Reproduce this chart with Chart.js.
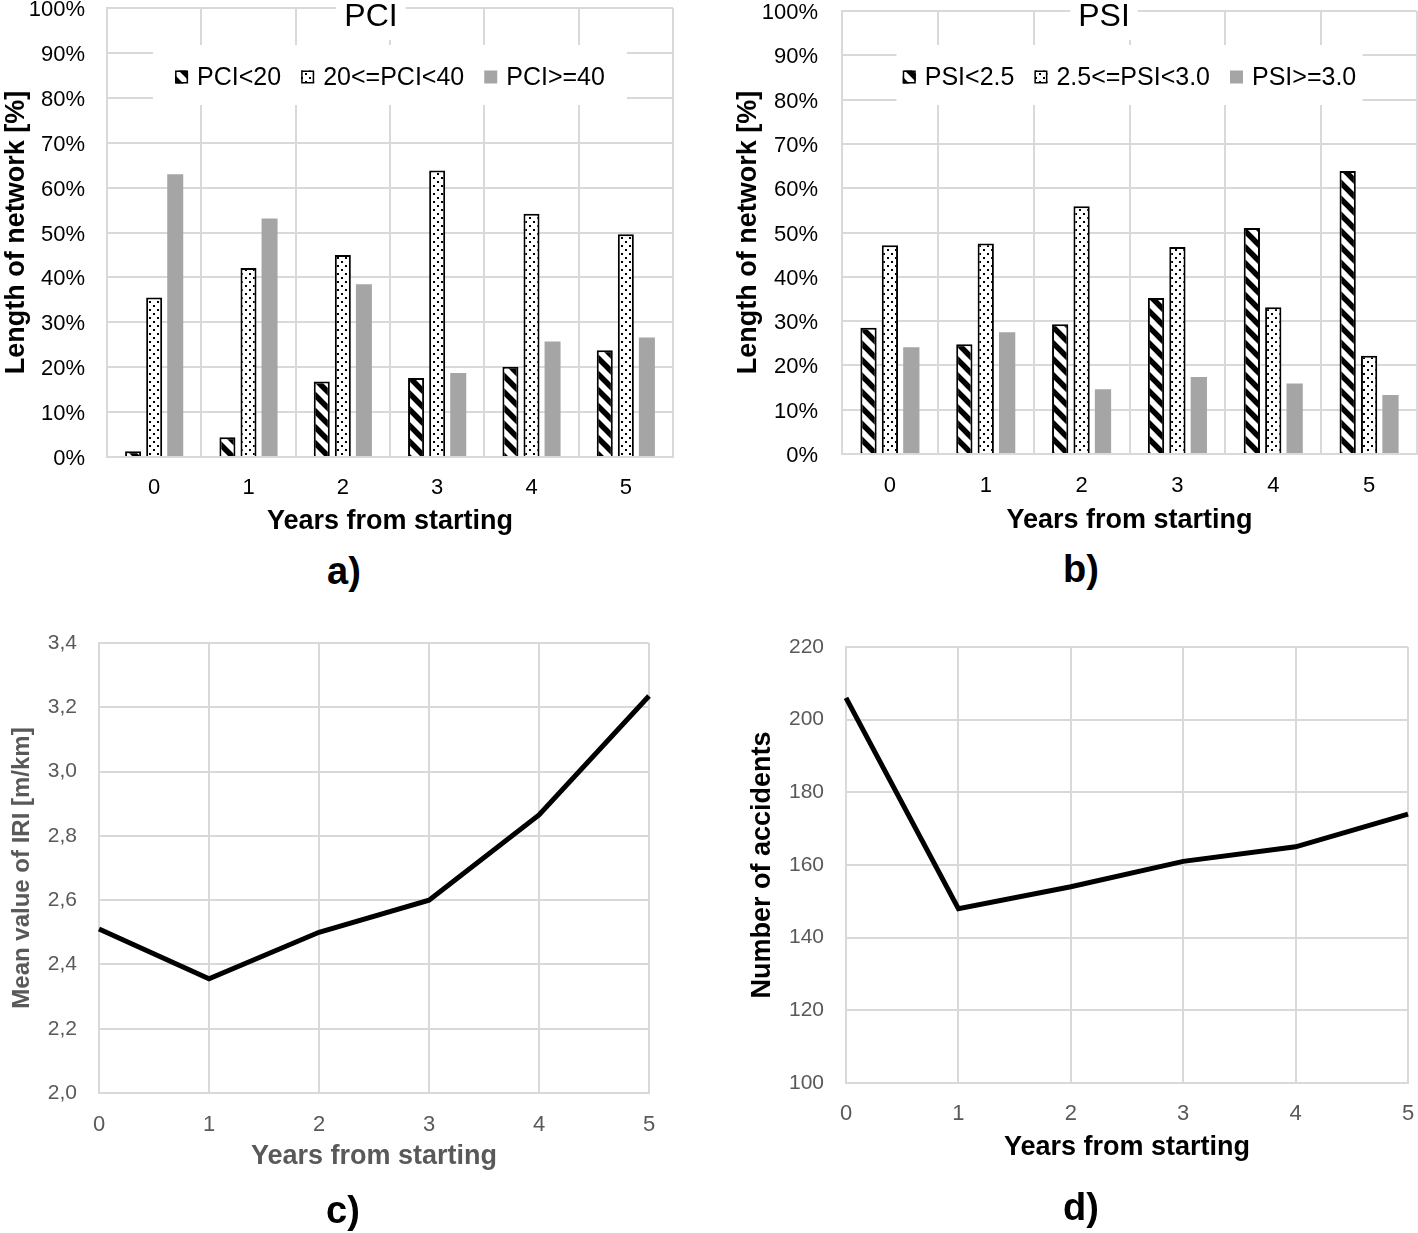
<!DOCTYPE html>
<html>
<head>
<meta charset="utf-8">
<script src="https://cdn.jsdelivr.net/npm/chart.js@4.4.1/dist/chart.umd.min.js"></script>
<style>
  body { margin: 0; background: #fff; }
  #wrap { position: relative; width: 1418px; height: 1233px; overflow: hidden; font-family: "Liberation Sans", Arial, sans-serif; }
  canvas { position: absolute; }
  .tag { position: absolute; font-weight: bold; font-size: 38px; color: #000; transform: translate(-50%, -50%); }
</style>
</head>
<body>
<div id="wrap">
  <canvas id="pci" width="700" height="545" style="left:0;top:0"></canvas>
  <canvas id="psi" width="708" height="545" style="left:710px;top:0"></canvas>
  <canvas id="iri" width="700" height="590" style="left:0;top:600px"></canvas>
  <canvas id="acc" width="698" height="590" style="left:720px;top:600px"></canvas>
  <div class="tag" style="left:344px;top:571px">a)</div>
  <div class="tag" style="left:1081px;top:569px">b)</div>
  <div class="tag" style="left:343px;top:1210px">c)</div>
  <div class="tag" style="left:1081px;top:1207px">d)</div>
</div>
<script>
const years = ['0', '1', '2', '3', '4', '5']

// panel a - PCI classes, % of network length
const pciLabels = ['PCI<20', '20<=PCI<40', 'PCI>=40']
const pciLow = [1.3, 4.4, 16.8, 17.6, 20.1, 23.8]
const pciMid = [35.5, 42.1, 45.0, 63.8, 54.2, 49.6]
const pciHigh = [63.0, 53.1, 38.5, 18.7, 25.7, 26.6]

// panel b - PSI classes
const psiLabels = ['PSI<2.5', '2.5<=PSI<3.0', 'PSI>=3.0']
const psiLow = [28.5, 24.8, 29.3, 35.2, 51.0, 63.9]
const psiMid = [47.1, 47.5, 55.9, 46.7, 33.1, 22.2]
const psiHigh = [24.1, 27.5, 14.6, 17.4, 15.9, 13.3]

// panel c - mean IRI [m/km], panel d - accidents
const iri = [2.51, 2.355, 2.50, 2.60, 2.865, 3.235]
const accidents = [206, 148, 154, 161, 165, 174]

const FONT = '"Liberation Sans", Arial, sans-serif'
Chart.defaults.font.family = FONT
const GRID = '#d9d9d9'
const GREY = '#595959'

const makeHatch = () => {
  const c = document.createElement('canvas')
  c.width = 16; c.height = 16
  const x = c.getContext('2d')
  x.fillStyle = '#fff'; x.fillRect(0, 0, 16, 16)
  x.strokeStyle = '#000'; x.lineWidth = 5.5
  x.beginPath()
  for (const k of [-16, 0, 16]) { x.moveTo(-4, -4 + k); x.lineTo(20, 20 + k) }
  x.stroke()
  return x.createPattern(c, 'repeat')
}

const makeDots = () => {
  const c = document.createElement('canvas')
  c.width = 8; c.height = 8
  const x = c.getContext('2d')
  x.fillStyle = '#fff'; x.fillRect(0, 0, 8, 8)
  x.fillStyle = '#000'
  x.fillRect(1, 1, 2, 2); x.fillRect(5, 5, 2, 2)
  return x.createPattern(c, 'repeat')
}

const hatch = makeHatch()
const dots = makeDots()
const barStyles = [
  { backgroundColor: hatch, borderColor: '#000', borderWidth: 2 },
  { backgroundColor: dots, borderColor: '#000', borderWidth: 2 },
  { backgroundColor: '#a5a5a5', borderWidth: 0 }
]

// Excel-like title + legend sitting on top of the plot area
const overlay = {
  id: 'overlay',
  afterDraw(chart, args, opts) {
    const { ctx, chartArea } = chart
    const cx = (chartArea.left + chartArea.right) / 2
    ctx.save()
    ctx.font = '32px ' + FONT
    const tw = ctx.measureText(opts.title).width
    ctx.fillStyle = '#fff'
    ctx.fillRect(opts.titleX - tw / 2 - 8, 0, tw + 16, 40)
    ctx.fillStyle = '#000'
    ctx.textAlign = 'center'
    ctx.textBaseline = 'middle'
    ctx.fillText(opts.title, opts.titleX, 17)

    ctx.fillStyle = '#fff'
    ctx.fillRect(cx - opts.legendW / 2, 45, opts.legendW, 60)
    ctx.font = '25px ' + FONT
    const box = 13, gap = 9, space = 20, ly = 77
    const items = chart.data.datasets
    const widths = items.map(d => box + gap + ctx.measureText(d.label).width)
    let x = cx - (widths.reduce((a, b) => a + b, 0) + space * (items.length - 1)) / 2
    items.forEach((d, i) => {
      ctx.fillStyle = d.backgroundColor
      ctx.fillRect(x, ly - box / 2, box, box)
      if (d.borderWidth) {
        ctx.strokeStyle = '#000'
        ctx.lineWidth = 1.5
        ctx.strokeRect(x + 0.75, ly - box / 2 + 0.75, box - 1.5, box - 1.5)
      }
      ctx.fillStyle = '#000'
      ctx.textAlign = 'left'
      ctx.fillText(d.label, x + box + gap, ly + 1)
      x += widths[i] + space
    })
    ctx.restore()
  }
}

// keep the plot box where the reference has it, ignoring tick label overflow
const fixY = w => s => { s.width = w; s.paddingTop = 0; s.paddingBottom = 0 }
const fixX = h => s => { s.height = h; s.paddingLeft = 0; s.paddingRight = 0 }

const makeBarChart = (el, labels, series, geo) => new Chart(el, {
  type: 'bar',
  data: {
    labels: years,
    datasets: series.map((data, i) => ({ label: labels[i], data, ...barStyles[i] }))
  },
  plugins: [overlay],
  options: {
    responsive: false,
    animation: false,
    devicePixelRatio: 1,
    layout: { padding: { top: geo.top, right: geo.right, left: 0, bottom: 0 } },
    datasets: { bar: { categoryPercentage: 0.67, barPercentage: 0.76 } },
    plugins: {
      legend: { display: false },
      tooltip: { enabled: false },
      overlay: { title: geo.title, titleX: geo.titleX, legendW: geo.legendW }
    },
    scales: {
      x: {
        grid: { color: GRID, lineWidth: 2, drawTicks: false },
        border: { color: GRID, width: 2 },
        ticks: { color: '#000', font: { size: 22 }, padding: geo.xtp },
        title: { display: true, text: 'Years from starting', color: '#000', font: { size: 27, weight: 'bold' }, padding: { top: 0, bottom: geo.xtb } },
        afterFit: fixX(geo.xh)
      },
      y: {
        min: 0,
        max: 100,
        grid: { color: GRID, lineWidth: 2, drawTicks: false },
        border: { color: GRID, width: 2 },
        ticks: { stepSize: 10, color: '#000', font: { size: 22 }, padding: geo.ytp, labelOffset: 2, callback: v => v + '%' },
        title: { display: true, text: 'Length of network [%]', color: '#000', font: { size: 27, weight: 'bold' }, padding: { top: geo.ytt, bottom: 0 } },
        afterFit: fixY(geo.yw)
      }
    }
  }
})

const makeLineChart = (el, data, geo) => new Chart(el, {
  type: 'line',
  data: {
    labels: years,
    datasets: [{ data, borderColor: '#000', borderWidth: 5, pointRadius: 0, tension: 0, fill: false }]
  },
  options: {
    responsive: false,
    animation: false,
    devicePixelRatio: 1,
    layout: { padding: { top: geo.top, right: geo.right, left: 0, bottom: 0 } },
    plugins: { legend: { display: false }, tooltip: { enabled: false } },
    scales: {
      x: {
        offset: false,
        grid: { color: GRID, lineWidth: 2, drawTicks: false },
        border: { color: GRID, width: 2 },
        ticks: { color: GREY, font: { size: 22 }, padding: geo.xtp },
        title: { display: true, text: 'Years from starting', color: geo.titleColor, font: { size: 27, weight: 'bold' }, padding: { top: 0, bottom: geo.xtb } },
        afterFit: fixX(geo.xh)
      },
      y: {
        min: geo.min,
        max: geo.max,
        grid: { color: GRID, lineWidth: 2, drawTicks: false },
        border: { color: GRID, width: 2 },
        ticks: { stepSize: geo.step, color: GREY, font: { size: 21 }, padding: geo.ytp, callback: geo.fmt },
        title: { display: true, text: geo.ytitle, color: geo.titleColor, font: { size: geo.ytSize, weight: 'bold' }, padding: { top: geo.ytt, bottom: 0 } },
        afterFit: fixY(geo.yw)
      }
    }
  }
})

const charts = {
  pci: makeBarChart(document.getElementById('pci'), pciLabels, [pciLow, pciMid, pciHigh],
    { top: 8, right: 27, xh: 88, yw: 107, xtp: 18, xtb: 7, ytp: 22, ytt: 0, title: 'PCI', titleX: 371, legendW: 474 }),
  psi: makeBarChart(document.getElementById('psi'), psiLabels, [psiLow, psiMid, psiHigh],
    { top: 11, right: 1, xh: 91, yw: 132, xtp: 19, xtb: 8, ytp: 24, ytt: 22, title: 'PSI', titleX: 394, legendW: 466 }),
  iri: makeLineChart(document.getElementById('iri'), iri,
    { top: 43, right: 51, xh: 97, yw: 99, xtp: 19, xtb: 17, ytp: 22, ytt: 8, min: 2, max: 3.4, step: 0.2,
      fmt: v => v.toFixed(1).replace('.', ','), ytitle: 'Mean value of IRI [m/km]', ytSize: 24, titleColor: GREY }),
  acc: makeLineChart(document.getElementById('acc'), accidents,
    { top: 47, right: 10, xh: 107, yw: 126, xtp: 18, xtb: 26, ytp: 22, ytt: 26, min: 100, max: 220, step: 20,
      fmt: v => v, ytitle: 'Number of accidents', ytSize: 27, titleColor: '#000' })
}
</script>
</body>
</html>
